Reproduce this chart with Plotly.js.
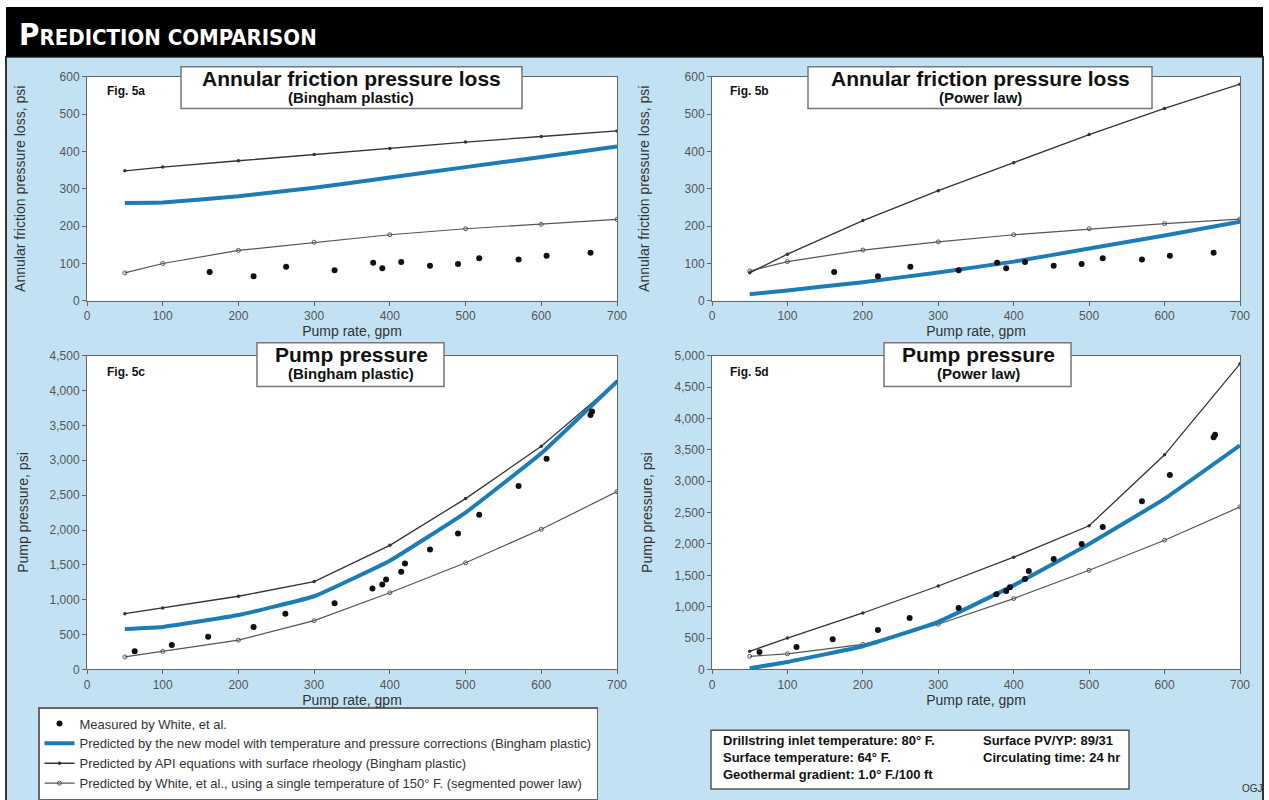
<!DOCTYPE html>
<html>
<head>
<meta charset="utf-8">
<script src="https://cdn.plot.ly/plotly-3.0.1.min.js"></script>
<style>html,body{margin:0;padding:0;background:#fff;}#chart{width:1269px;height:800px;}</style>
</head>
<body>
<div id="chart"></div>
<script>
// ---------- DATA ----------
const rateModel = [50, 100, 200, 300, 400, 500, 600, 700];

// Measured by White, et al.
const measRate = [162, 220, 263, 327, 378, 390, 415, 453, 490, 518, 570, 607, 665];
const measAnnular = [77, 66, 91, 82, 102, 87, 104, 94, 99, 114, 111, 121, 129];
const measPumpRate = [63, 112, 160, 220, 262, 327, 377, 390, 395, 415, 420, 453, 490, 518, 570, 607, 665, 667];
const measPumpC = [260, 350, 470, 610, 800, 950, 1160, 1220, 1290, 1400, 1520, 1720, 1950, 2220, 2630, 3020, 3650, 3700];
const measPumpD = [280, 360, 480, 630, 820, 980, 1200, 1250, 1310, 1440, 1570, 1760, 2000, 2270, 2680, 3100, 3700, 3740];

// Fig. 5a  Annular friction pressure loss (Bingham plastic)
const aNew   = [262, 263, 280, 303, 330, 358, 385, 413];
const aAPI   = [348, 358, 375, 392, 408, 425, 440, 455];
const aWhite = [75, 100, 135, 157, 177, 193, 205, 218];

// Fig. 5b  Annular friction pressure loss (Power law)
const bNew   = [18, 28, 50, 76, 105, 140, 175, 212];
const bAPI   = [75, 125, 215, 295, 370, 445, 515, 580];
const bWhite = [80, 105, 136, 158, 177, 193, 207, 219];

// Fig. 5c  Pump pressure (Bingham plastic)
const cNew   = [580, 610, 780, 1050, 1560, 2250, 3100, 4130];
const cAPI   = [800, 880, 1050, 1260, 1780, 2450, 3200, 4130];
const cWhite = [180, 260, 420, 700, 1100, 1530, 2010, 2550];

// Fig. 5d  Pump pressure (Power law)
const dNew   = [20, 120, 370, 760, 1340, 2000, 2720, 3570];
const dAPI   = [290, 500, 900, 1330, 1790, 2290, 3420, 4870];
const dWhite = [210, 250, 400, 720, 1130, 1580, 2060, 2590];

const seriesNames = [
  'Measured by White, et al.',
  'Predicted by the new model with temperature and pressure corrections (Bingham plastic)',
  'Predicted by API equations with surface rheology (Bingham plastic)',
  'Predicted by White, et al., using a single temperature of 150° F. (segmented power law)'
];

// ---------- STYLES ----------
const W = 1269, H = 800;
const px = v => v / W;
const py = v => 1 - v / H;
const BLUE = '#1b7cb6';
const FONT = 'Liberation Sans, Arial, sans-serif';

function panel(ax, newY, apiY, whiteY, mx, my, legend) {
  const xa = 'x' + ax, ya = 'y' + ax;
  return [
    {x: rateModel, y: whiteY, xaxis: xa, yaxis: ya, type: 'scatter', mode: 'lines+markers',
     name: seriesNames[3], legendrank: 4, showlegend: legend,
     line: {color: '#555', width: 1.2}, marker: {symbol: 'circle-open', size: 4, color: '#555', line: {width: 1}}},
    {x: rateModel, y: apiY, xaxis: xa, yaxis: ya, type: 'scatter', mode: 'lines+markers',
     name: seriesNames[2], legendrank: 3, showlegend: legend,
     line: {color: '#333', width: 1.3}, marker: {symbol: 'circle', size: 3.5, color: '#333'}},
    {x: rateModel, y: newY, xaxis: xa, yaxis: ya, type: 'scatter', mode: 'lines',
     name: seriesNames[1], legendrank: 2, showlegend: legend,
     line: {color: BLUE, width: 4, shape: 'spline', smoothing: 0.3}},
    {x: mx, y: my, xaxis: xa, yaxis: ya, type: 'scatter', mode: 'markers',
     name: seriesNames[0], legendrank: 1, showlegend: legend,
     marker: {symbol: 'circle', size: 6, color: '#111'}}
  ];
}

const traces = [].concat(
  panel('', aNew, aAPI, aWhite, measRate, measAnnular, true),
  panel('2', bNew, bAPI, bWhite, measRate, measAnnular, false),
  panel('3', cNew, cAPI, cWhite, measPumpRate, measPumpC, false),
  panel('4', dNew, dAPI, dWhite, measPumpRate, measPumpD, false)
);

const domXL = [px(87), px(617)], domXR = [px(712), px(1240)];
const domYT = [py(302), py(77)], domYB = [py(672), py(357)];

function xaxis(dom, anchor) {
  return {domain: dom, anchor: anchor, range: [0, 700], dtick: 100, tick0: 0,
    showgrid: false, zeroline: false, showline: true, linecolor: '#666', linewidth: 1, mirror: true,
    ticks: 'outside', ticklen: 4, tickcolor: '#666',
    tickfont: {family: FONT, size: 12, color: '#555'},
    title: {text: 'Pump rate, gpm', font: {family: FONT, size: 14, color: '#333'}, standoff: 0}};
}
function yaxis(dom, anchor, max, dtick, title, fmt, standoff) {
  return {domain: dom, anchor: anchor, range: [0, max], dtick: dtick, tick0: 0,
    showgrid: false, zeroline: false, showline: true, linecolor: '#666', linewidth: 1, mirror: true,
    ticks: 'outside', ticklen: 4, tickcolor: '#666', tickformat: fmt,
    tickfont: {family: FONT, size: 12, color: '#555'},
    title: {text: title, font: {family: FONT, size: 14, color: '#333'}, standoff: standoff}};
}

function plotRect(x0, x1, y0, y1) {
  return {type: 'rect', xref: 'paper', yref: 'paper', x0: px(x0), x1: px(x1), y0: py(y1), y1: py(y0),
    fillcolor: '#fff', line: {width: 0}, layer: 'below'};
}
function box(x0, x1, y0, y1, lc) {
  return {type: 'rect', xref: 'paper', yref: 'paper', x0: px(x0), x1: px(x1), y0: py(y1), y1: py(y0),
    fillcolor: '#fff', line: {color: lc || '#777', width: 1.5}};
}

const shapes = [
  // light blue backdrop and frame
  {type: 'rect', xref: 'paper', yref: 'paper', x0: px(6), x1: px(1263), y0: -0.01, y1: py(57),
   fillcolor: '#c2e2f4', line: {color: '#333', width: 2}, layer: 'below'},
  // black header
  {type: 'rect', xref: 'paper', yref: 'paper', x0: px(6), x1: px(1263), y0: py(57), y1: py(7),
   fillcolor: '#000', line: {width: 0}, layer: 'below'},
  // white plot areas
  plotRect(87, 617, 77, 302), plotRect(712, 1240, 77, 302),
  plotRect(87, 617, 357, 672), plotRect(712, 1240, 357, 672),
  // title boxes
  box(181, 522, 67, 109), box(808, 1152, 67, 109),
  box(257, 444, 344, 388), box(884, 1071, 344, 388),
  // info box
  box(711, 1129, 733, 792, '#555')
];

function ann(x, y, text, size, opts) {
  return Object.assign({xref: 'paper', yref: 'paper', x: px(x), y: py(y), text: text, showarrow: false,
    xanchor: 'left', yanchor: 'middle', font: {family: FONT, size: size, color: '#111'}}, opts || {});
}

const HEADFONT = 'DejaVu Sans Condensed, Liberation Sans Narrow, sans-serif';
const annotations = [
  ann(17, 34, '<b><span style="font-size:31px">P</span>REDICTION COMPARISON</b>', 22,
      {font: {family: HEADFONT, size: 22, color: '#fff'}}),
  // panel titles
  ann(351, 79, '<b>Annular friction pressure loss</b>', 21, {xanchor: 'center'}),
  ann(351, 98, '<b>(Bingham plastic)</b>', 15, {xanchor: 'center'}),
  ann(980, 79, '<b>Annular friction pressure loss</b>', 21, {xanchor: 'center'}),
  ann(980, 98, '<b>(Power law)</b>', 15, {xanchor: 'center'}),
  ann(351, 356, '<b>Pump pressure</b>', 21, {xanchor: 'center'}),
  ann(351, 375, '<b>(Bingham plastic)</b>', 15, {xanchor: 'center'}),
  ann(978, 356, '<b>Pump pressure</b>', 21, {xanchor: 'center'}),
  ann(978, 375, '<b>(Power law)</b>', 15, {xanchor: 'center'}),
  // fig labels
  ann(105, 91, '<b>Fig. 5a</b>', 12),
  ann(728, 91, '<b>Fig. 5b</b>', 12),
  ann(105, 373, '<b>Fig. 5c</b>', 12),
  ann(728, 373, '<b>Fig. 5d</b>', 12),
  // info box text
  ann(721, 743, '<b>Drillstring inlet temperature: 80° F.</b>', 13),
  ann(721, 760, '<b>Surface temperature: 64° F.</b>', 13),
  ann(721, 777, '<b>Geothermal gradient: 1.0° F./100 ft</b>', 13),
  ann(981, 743, '<b>Surface PV/YP: 89/31</b>', 13),
  ann(981, 760, '<b>Circulating time: 24 hr</b>', 13),
  ann(1240, 791, 'OGJ', 10, {font: {family: FONT, size: 10, color: '#333'}})
];

const layout = {
  width: W, height: H,
  margin: {l: 0, r: 0, t: 0, b: 0},
  paper_bgcolor: '#fff', plot_bgcolor: '#fff',
  font: {family: FONT, color: '#333'},
  showlegend: true,
  legend: {x: px(38), y: py(710), xanchor: 'left', yanchor: 'top',
    bgcolor: '#fff', bordercolor: '#666', borderwidth: 1.5,
    font: {family: FONT, size: 13, color: '#333'}, itemwidth: 30, tracegroupgap: 0,
    traceorder: 'normal'},
  xaxis: xaxis(domXL, 'y'), yaxis: yaxis(domYT, 'x', 600, 100, 'Annular friction pressure loss, psi', '', 30),
  xaxis2: xaxis(domXR, 'y2'), yaxis2: yaxis(domYT, 'x2', 600, 100, 'Annular friction pressure loss, psi', '', 31),
  xaxis3: xaxis(domXL, 'y3'), yaxis3: yaxis(domYB, 'x3', 4500, 500, 'Pump pressure, psi', ',d', 17),
  xaxis4: xaxis(domXR, 'y4'), yaxis4: yaxis(domYB, 'x4', 5000, 500, 'Pump pressure, psi', ',d', 18),
  shapes: shapes,
  annotations: annotations
};

Plotly.newPlot('chart', traces, layout, {displayModeBar: false, staticPlot: true});
</script>
</body>
</html>
